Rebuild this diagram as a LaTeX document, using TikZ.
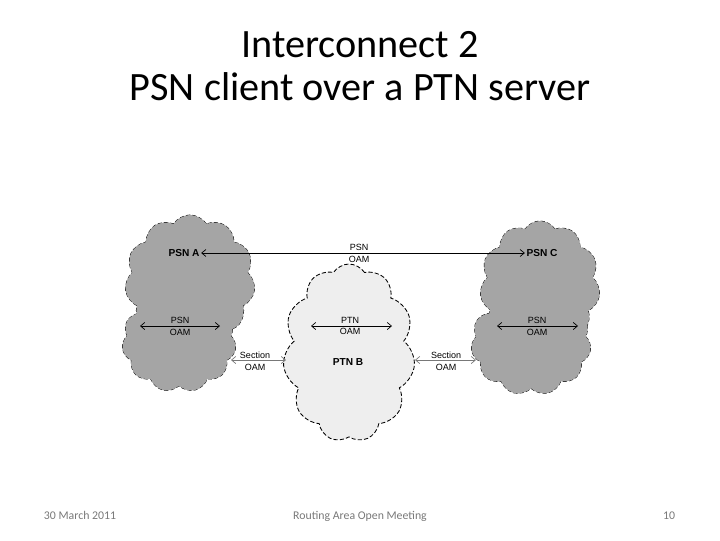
\documentclass[tikz,border=0pt]{standalone}
\usepackage{fontspec}
\setmainfont{Carlito}
\newfontfamily\diafont{Liberation Sans}
\usetikzlibrary{shapes.symbols,arrows.meta}
\definecolor{psngray}{RGB}{165,165,165}
\definecolor{ptngray}{RGB}{238,238,238}
\definecolor{footgray}{RGB}{120,120,120}
\begin{document}
\begin{tikzpicture}[x=0.025cm,y=-0.025cm]
\tikzset{cl/.style={cloud,cloud puffs=11,cloud puff arc=115,aspect=1,
    dash pattern=on 3pt off 1.5pt,line width=0.6pt,inner sep=0pt},
  psn/.style={cl,draw,fill=psngray},
  psnfill/.style={cl,fill=psngray},
  ptn/.style={cl,draw,fill=ptngray},
  lbl/.style={font=\diafont\fontsize{6.4}{8.4}\selectfont,align=center,inner sep=0pt},
  cname/.style={font=\diafont\bfseries\fontsize{7.2}{9}\selectfont,inner sep=1pt},
  title/.style={font=\fontsize{28.6}{34}\selectfont},
  foot/.style={font=\fontsize{8.4}{10}\selectfont,text=footgray,anchor=base},
  oam/.style={{Straight Barb[length=3pt,width=5pt]}-{Straight Barb[length=3pt,width=5pt]},line width=0.5pt},
  sec/.style={oam,draw=footgray}}
\useasboundingbox (0,0) rectangle (720,540);

% title and footer
\path (360,45) node[title] (t1) {Interconnect 2};
\path (360,87) node[title] (t2) {PSN client over a PTN server};
\path (80,519) node[foot] (date) {30 March 2011};
\path (360,519) node[foot] (meet) {Routing Area Open Meeting};
\path (669,519) node[foot] (page) {10};

% clouds (outlines first, then fills so that only the outer edge stays)
\path (190,281) node[psn,minimum width=3.25cm,minimum height=3.3cm] (a1) {};
\path (179,342) node[psn,minimum width=2.85cm,minimum height=2.5cm] (a2) {};
\path (190,281) node[psnfill,minimum width=3.25cm,minimum height=3.3cm] (a1f) {};
\path (179,342) node[psnfill,minimum width=2.85cm,minimum height=2.5cm] (a2f) {};
\path (540,286) node[psn,minimum width=3.0cm,minimum height=3.25cm] (c1) {};
\path (531,343) node[psn,minimum width=3.0cm,minimum height=2.6cm] (c2) {};
\path (540,286) node[psnfill,minimum width=3.0cm,minimum height=3.25cm] (c1f) {};
\path (531,343) node[psnfill,minimum width=3.0cm,minimum height=2.6cm] (c2f) {};
\path (349,353) node[ptn,minimum width=3.3cm,minimum height=4.45cm] (b) {};

% names
\path (184,253) node[cname] (psnA) {PSN A};
\path (542,253) node[cname] (psnC) {PSN C};
\path (348,362) node[cname] (ptnB) {PTN B};

% end-to-end PSN OAM
\draw[oam] (psnA) -- (psnC);
\path (359,253) node[lbl] (top) {PSN\\OAM};

% inner OAM
\coordinate (a3) at (140,326);
\coordinate (a4) at (220,326);
\draw[oam] (a3) -- (a4);
\path (180,326) node[lbl] (oamA) {PSN\\OAM};
\coordinate (b3) at (311,326);
\coordinate (b4) at (392,326);
\draw[oam] (b3) -- (b4);
\path (350,326) node[lbl] (oamB) {PTN\\OAM};
\coordinate (c3) at (497,326);
\coordinate (c4) at (578,326);
\draw[oam] (c3) -- (c4);
\path (537,326) node[lbl] (oamC) {PSN\\OAM};

% section OAM
\coordinate (s1) at (231,360);
\coordinate (s2) at (286,360);
\draw[sec] (s1) -- (s2);
\path (255,361) node[lbl] (secL) {Section\\OAM};
\coordinate (s3) at (415,360);
\coordinate (s4) at (476,360);
\draw[sec] (s3) -- (s4);
\path (446,361) node[lbl] (secR) {Section\\OAM};
\end{tikzpicture}
\end{document}
